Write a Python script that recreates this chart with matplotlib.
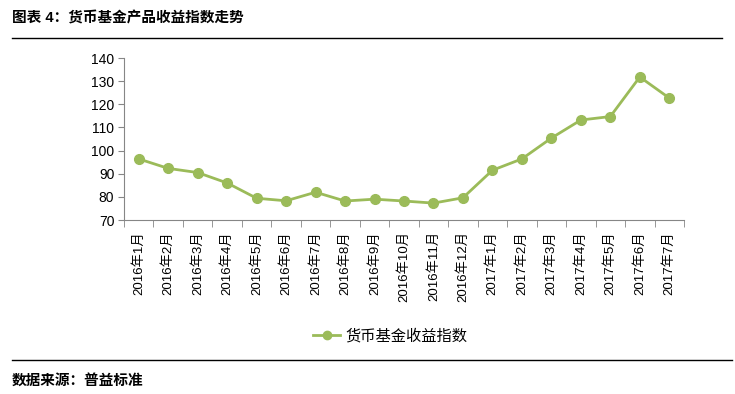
import numpy as np
import matplotlib.pyplot as plt
from matplotlib.lines import Line2D

plt.rcParams['font.family'] = ['Liberation Sans', 'Noto Sans CJK SC', 'DejaVu Sans']

# monthly index values
months = ['2016年1月', '2016年2月', '2016年3月', '2016年4月', '2016年5月', '2016年6月',
          '2016年7月', '2016年8月', '2016年9月', '2016年10月', '2016年11月', '2016年12月',
          '2017年1月', '2017年2月', '2017年3月', '2017年4月', '2017年5月', '2017年6月',
          '2017年7月']
indexValues = [96.4, 92.3, 90.5, 86.0, 79.4, 78.3, 82.0, 78.2, 79.0, 78.2, 77.3, 79.6,
               91.5, 96.4, 105.4, 113.2, 114.7, 131.8, 122.7]
seriesName = '货币基金收益指数'
yTicks = [70, 80, 90, 100, 110, 120, 130, 140]

GREEN = '#9BBB59'
W, H = 735, 394

fig = plt.figure(figsize=(W / 100, H / 100), dpi=100)
ax = fig.add_axes([124 / W, 1 - 220 / H, (684 - 124) / W, (220 - 58) / H])

x = np.arange(len(months))
ax.plot(x, indexValues, color=GREEN, lw=2, marker='o', ms=7, mec=GREEN, mfc=GREEN,
        solid_capstyle='round')

ax.set_xlim(-0.5, len(months) - 0.5)
ax.set_ylim(70, 140)
ax.set_yticks(yTicks)
ax.tick_params(axis='y', labelsize=10, length=4, color='#868686', pad=3)

# category labels at centres, tick marks at the boundaries
ax.set_xticks(x)
ax.set_xticklabels(months, rotation=90, fontsize=9.5, va='top')
ax.tick_params(axis='x', which='major', length=0, pad=8)
ax.set_xticks(np.arange(len(months) + 1) - 0.5, minor=True)
ax.tick_params(axis='x', which='minor', length=5, color='#868686')

for side in ['top', 'right']:
    ax.spines[side].set_visible(False)
for side in ['left', 'bottom']:
    ax.spines[side].set_color('#868686')

handle = Line2D([], [], color=GREEN, lw=2, marker='o', ms=6)
fig.legend([handle], [seriesName], loc='center', bbox_to_anchor=(390 / W, 1 - 336 / H),
           frameon=False, fontsize=11, handlelength=1.8, handletextpad=0.3)

fig.text(12 / W, 1 - 18 / H, '图表 4：货币基金产品收益指数走势', fontsize=10.5,
         fontweight='bold', va='center', ha='left')
fig.add_artist(Line2D([12 / W, 722 / W], [1 - 38 / H, 1 - 38 / H], color='black', lw=1))
fig.add_artist(Line2D([12 / W, 732 / W], [1 - 360 / H, 1 - 360 / H], color='black', lw=1))
fig.text(12 / W, 1 - 381 / H, '数据来源：普益标准', fontsize=10.5, fontweight='bold',
         va='center', ha='left')

fig.savefig('out.png', dpi=100)
